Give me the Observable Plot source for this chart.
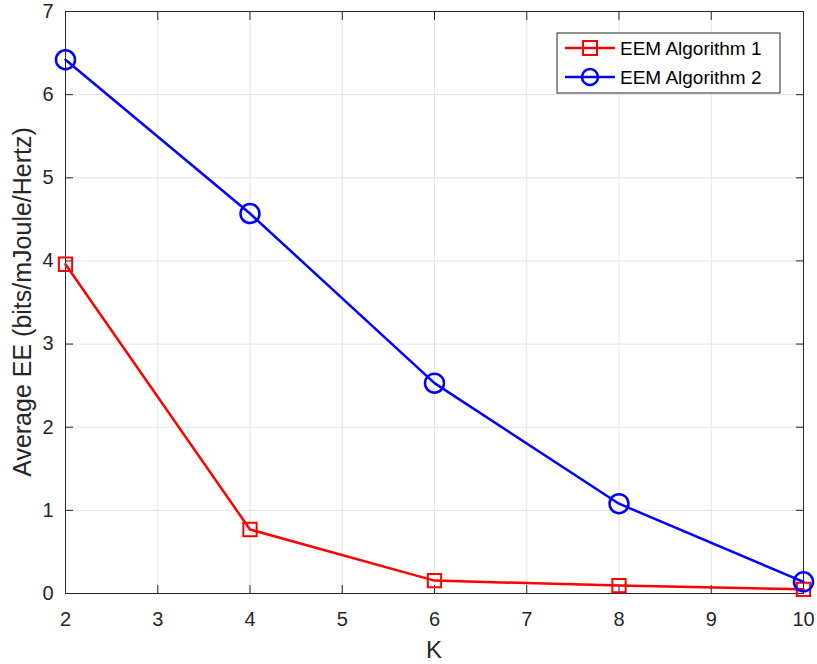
<!DOCTYPE html>
<html>
<head>
<meta charset="utf-8">
<script src="https://cdn.jsdelivr.net/npm/d3@7"></script>
<script src="https://cdn.jsdelivr.net/npm/@observablehq/plot@0.6"></script>
<style>
  html, body { margin: 0; padding: 0; background: #fff; }
  #chart { position: relative; width: 817px; height: 664px; }
</style>
</head>
<body>
<div id="chart"></div>
<script>
const K = [2, 4, 6, 8, 10];
const alg1 = [3.96, 0.77, 0.155, 0.095, 0.05];
const alg2 = [6.42, 4.57, 2.53, 1.08, 0.14];
const seriesNames = ["EEM Algorithm 1", "EEM Algorithm 2"];
const xTicks = [2, 3, 4, 5, 6, 7, 8, 9, 10];
const yTicks = [0, 1, 2, 3, 4, 5, 6, 7];

const d1 = K.map((k, i) => ({K: k, v: alg1[i]}));
const d2 = K.map((k, i) => ({K: k, v: alg2[i]}));

const font = "'Liberation Sans', Arial, Helvetica, sans-serif";
const axisColor = "#262626";

const chart = Plot.plot({
  width: 817,
  height: 664,
  marginLeft: 65,
  marginRight: 14,
  marginTop: 11,
  marginBottom: 71,
  style: {fontFamily: font, background: "#fff", overflow: "visible"},
  x: {domain: [2, 10], ticks: xTicks},
  y: {domain: [0, 7], ticks: yTicks},
  marks: [
    Plot.gridX(xTicks, {stroke: "#e3e3e3", strokeOpacity: 1, strokeWidth: 1}),
    Plot.gridY(yTicks, {stroke: "#e3e3e3", strokeOpacity: 1, strokeWidth: 1}),
    Plot.axisX(xTicks, {anchor: "bottom", tickSize: 0, tickPadding: 18, fontSize: 20, fill: axisColor, label: null, tickFormat: d => d}),
    Plot.axisX(xTicks, {anchor: "bottom", tickSize: -8, tickFormat: () => "", stroke: axisColor, label: null}),
    Plot.axisX(xTicks, {anchor: "top", tickSize: -8, tickFormat: () => "", stroke: axisColor, label: null}),
    Plot.axisY(yTicks, {anchor: "left", tickSize: -8, tickPadding: 20, fontSize: 20, fill: axisColor, stroke: axisColor, label: null, tickFormat: d => d}),
    Plot.axisY(yTicks, {anchor: "right", tickSize: -8, tickFormat: () => "", stroke: axisColor, label: null}),
    Plot.frame({stroke: axisColor, strokeWidth: 1}),
    Plot.line(d1, {x: "K", y: "v", stroke: "#ff0000", strokeWidth: 2.5}),
    Plot.dot(d1, {x: "K", y: "v", symbol: "square", r: 7.5, stroke: "#ff0000", strokeWidth: 2, fill: "none"}),
    Plot.line(d2, {x: "K", y: "v", stroke: "#0000ff", strokeWidth: 2.5}),
    Plot.dot(d2, {x: "K", y: "v", symbol: "circle", r: 9.5, stroke: "#0000ff", strokeWidth: 2.5, fill: "none"})
  ]
});

const svg = d3.select(chart);
// axis titles
svg.append("text")
  .attr("x", (65 + 803) / 2).attr("y", 658)
  .attr("text-anchor", "middle")
  .attr("font-size", 24).attr("fill", axisColor).attr("font-family", font)
  .text("K");
svg.append("text")
  .attr("transform", `translate(31, ${(11 + 593) / 2}) rotate(-90)`)
  .attr("text-anchor", "middle")
  .attr("font-size", 25).attr("fill", axisColor).attr("font-family", font)
  .text("Average EE (bits/mJoule/Hertz)");

// legend
const lg = svg.append("g").attr("transform", "translate(557,33)");
lg.append("rect").attr("width", 223).attr("height", 60)
  .attr("fill", "#fff").attr("stroke", axisColor).attr("stroke-width", 1);
const entries = [
  {name: seriesNames[0], color: "#ff0000", sym: "square"},
  {name: seriesNames[1], color: "#0000ff", sym: "circle"}
];
entries.forEach((e, i) => {
  const cy = 15 + i * 29;
  const g = lg.append("g").attr("transform", `translate(0,${cy})`);
  g.append("line").attr("x1", 8).attr("x2", 58).attr("y1", 0).attr("y2", 0)
    .attr("stroke", e.color).attr("stroke-width", 2.5);
  if (e.sym === "square") {
    g.append("rect").attr("x", 26).attr("y", -7).attr("width", 14).attr("height", 14)
      .attr("fill", "none").attr("stroke", e.color).attr("stroke-width", 2);
  } else {
    g.append("circle").attr("cx", 33).attr("cy", 0).attr("r", 8)
      .attr("fill", "none").attr("stroke", e.color).attr("stroke-width", 2.5);
  }
  g.append("text").attr("x", 63).attr("y", 0).attr("dy", "0.35em")
    .attr("text-anchor", "start")
    .attr("font-size", 19).attr("fill", "#000").attr("font-family", font)
    .text(e.name);
});

document.getElementById("chart").appendChild(chart);
</script>
</body>
</html>
